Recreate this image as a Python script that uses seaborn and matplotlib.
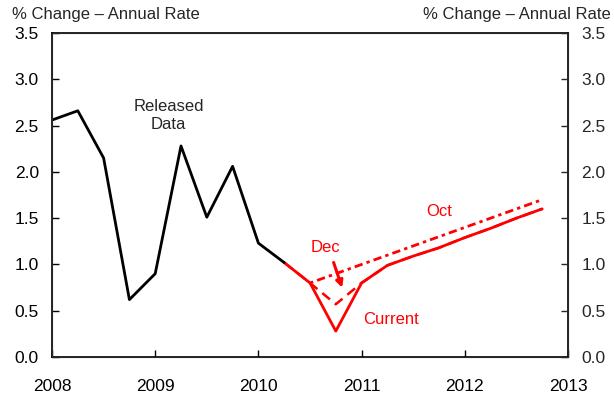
import numpy as np
import pandas as pd
import matplotlib
matplotlib.use('Agg')
import matplotlib.pyplot as plt
import seaborn as sns

# ---- data (quarterly) ----
released_x = [2008.0, 2008.25, 2008.5, 2008.75, 2009.0, 2009.25, 2009.5, 2009.75, 2010.0, 2010.25]
released_y = [2.56, 2.66, 2.15, 0.62, 0.90, 2.28, 1.51, 2.06, 1.23, 1.02]

proj_x = [2010.25, 2010.5, 2010.75, 2011.0, 2011.25, 2011.5, 2011.75, 2012.0, 2012.25, 2012.5, 2012.75]
current_y = [1.02, 0.80, 0.28, 0.80, 0.99, 1.09, 1.18, 1.29, 1.39, 1.50, 1.60]
dec_y = [1.02, 0.80, 0.57, 0.80, 0.99, 1.09, 1.18, 1.29, 1.39, 1.50, 1.60]

oct_x = [2010.5, 2010.75, 2011.0, 2011.25, 2011.5, 2011.75, 2012.0, 2012.25, 2012.5, 2012.75]
oct_y = [0.80, 0.90, 1.00, 1.10, 1.20, 1.30, 1.40, 1.50, 1.60, 1.70]

y_ticks = [0.0, 0.5, 1.0, 1.5, 2.0, 2.5, 3.0, 3.5]
x_ticks = [2008, 2009, 2010, 2011, 2012, 2013]
unit_label = '% Change \u2013 Annual Rate'

# ---- style ----
sns.set_style('white')
plt.rcParams['font.family'] = ['Liberation Sans', 'DejaVu Sans']

RED = '#ff0000'

fig = plt.figure(figsize=(6.14, 3.94), dpi=100)
ax = fig.add_axes([0.0847, 0.0939, 0.8404, 0.8223])

sns.lineplot(x=oct_x, y=oct_y, ax=ax, color=RED, lw=2.0,
             linestyle=(0, (1.2, 1.5, 3, 1.5)))
sns.lineplot(x=proj_x, y=dec_y, ax=ax, color=RED, lw=1.8, linestyle=(0, (4, 2.5)))
sns.lineplot(x=proj_x, y=current_y, ax=ax, color=RED, lw=2.0)
sns.lineplot(x=released_x, y=released_y, ax=ax, color='black', lw=2.0)

ax.set_xlim(2008, 2013)
ax.set_ylim(0, 3.5)
ax.set_xticks(x_ticks)
ax.set_yticks(y_ticks)
ax.set_yticklabels([f'{v:.1f}' for v in y_ticks])
ax.set_xticklabels([str(v) for v in x_ticks])
ax.tick_params(axis='both', direction='in', length=5, width=1, labelsize=12.5,
               colors='black', left=True, bottom=True)
ax.tick_params(axis='x', pad=16)
ax.tick_params(axis='y', pad=9.5)
for s in ax.spines.values():
    s.set_color('black')
    s.set_linewidth(1.2)

ax2 = ax.twinx()
ax2.set_ylim(0, 3.5)
ax2.set_yticks(y_ticks)
ax2.set_yticklabels([f'{v:.1f}' for v in y_ticks])
ax2.tick_params(axis='y', direction='in', length=5, width=1, labelsize=12.5,
                right=True, pad=9.5)
ax2.grid(False)
ax.grid(False)

# annotations
ax.text(2009.13, 2.61, 'Released\nData', ha='center', va='center', fontsize=12,
        linespacing=1.25)
ax.text(2010.65, 1.18, 'Dec', ha='center', va='center', fontsize=12, color=RED)
ax.annotate('', xy=(2010.82, 0.72), xytext=(2010.72, 1.05),
            arrowprops=dict(arrowstyle='-|>', color=RED, lw=2.2, mutation_scale=10))
ax.text(2011.75, 1.57, 'Oct', ha='center', va='center', fontsize=12, color=RED)
ax.text(2011.28, 0.40, 'Current', ha='center', va='center', fontsize=12, color=RED)

fig.text(12 / 614, 1 - 14 / 394, unit_label, ha='left', va='center', fontsize=12)
fig.text(611 / 614, 1 - 14 / 394, unit_label, ha='right', va='center', fontsize=12)

fig.savefig('out.png', dpi=100)
